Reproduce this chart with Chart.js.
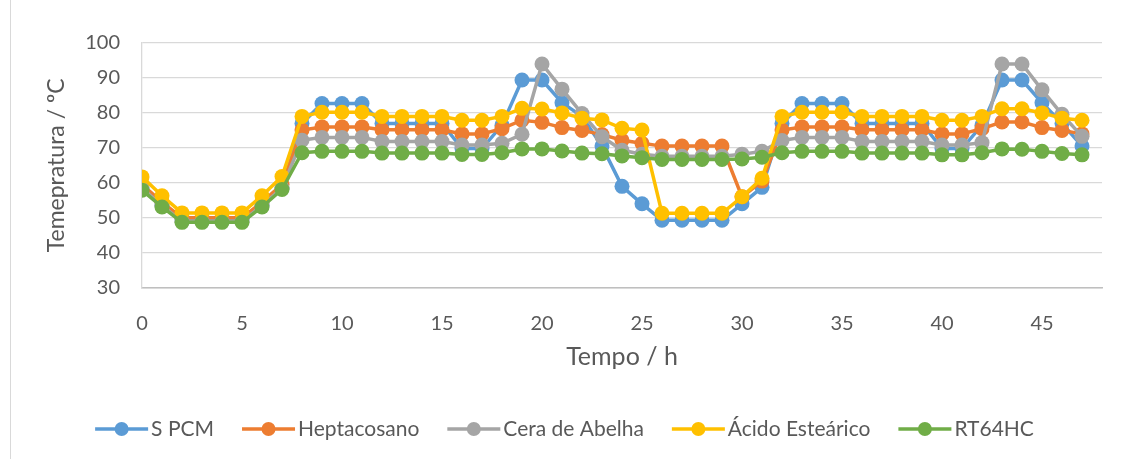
<!DOCTYPE html>
<html>
<head>
<meta charset="utf-8">
<script src="https://cdn.jsdelivr.net/npm/chart.js@4.4.1/dist/chart.umd.min.js"></script>
<style>
  html, body { margin: 0; padding: 0; background: #ffffff; }
  #wrap { position: relative; width: 1129px; height: 459px; }
  #frame { position: absolute; left: 10px; top: 0; width: 1px; height: 459px; background: #d9d9d9; }
  canvas { position: absolute; left: 0; top: 0; }
</style>
</head>
<body>
<div id="wrap">
  <canvas id="chart" width="1129" height="459"></canvas>
  <div id="frame"></div>
</div>
<script>
// Time in hours
const hours = [0, 1, 2, 3, 4, 5, 6, 7, 8, 9, 10, 11, 12, 13, 14, 15, 16, 17, 18, 19, 20, 21, 22, 23,
               24, 25, 26, 27, 28, 29, 30, 31, 32, 33, 34, 35, 36, 37, 38, 39, 40, 41, 42, 43, 44, 45, 46, 47];

// Temperature (ºC) per material
const sPCM = [58.5, 53.5, 49.5, 49.5, 49.5, 49.5, 53.5, 58.5, 77.0, 82.7, 82.7, 82.7,
              77.0, 77.0, 77.0, 77.0, 69.8, 69.8, 76.5, 89.4, 89.4, 82.9, 79.0, 70.5,
              59.0, 54.0, 49.3, 49.3, 49.3, 49.3, 54.0, 58.7, 77.0, 82.7, 82.7, 82.7,
              77.0, 77.0, 77.0, 77.0, 69.8, 69.8, 76.5, 89.4, 89.4, 82.9, 77.0, 70.5];

const heptacosano = [59.5, 54.5, 50.0, 50.0, 50.0, 50.0, 54.5, 59.5, 75.1, 76.0, 76.0, 76.0,
                     75.2, 75.2, 75.2, 75.2, 74.0, 74.0, 75.5, 77.9, 77.3, 75.8, 75.0, 73.8,
                     72.2, 71.3, 70.5, 70.5, 70.5, 70.5, 56.0, 60.5, 75.1, 76.0, 76.0, 76.0,
                     75.2, 75.2, 75.2, 75.2, 74.0, 74.0, 75.5, 77.4, 77.4, 75.8, 75.0, 74.0];

const ceraAbelha = [58.5, 53.5, 49.0, 49.0, 49.0, 49.0, 53.5, 58.5, 72.2, 73.0, 73.0, 73.0,
                    71.8, 71.8, 71.8, 71.8, 70.8, 70.8, 71.3, 73.9, 94.0, 86.8, 79.8, 73.2,
                    69.3, 68.2, 67.6, 67.6, 67.6, 67.6, 68.2, 69.0, 72.1, 73.0, 73.0, 73.0,
                    71.8, 71.8, 71.8, 71.8, 70.8, 70.8, 71.5, 94.0, 94.0, 86.6, 79.6, 73.3];

const acidoEstearico = [61.7, 56.3, 51.4, 51.4, 51.4, 51.4, 56.3, 61.8, 79.0, 80.2, 80.2, 80.2,
                        79.0, 79.0, 79.0, 79.0, 77.9, 77.9, 79.0, 81.3, 81.1, 80.0, 78.5, 78.0,
                        75.6, 75.1, 51.3, 51.3, 51.3, 51.3, 56.0, 61.3, 79.0, 80.2, 80.2, 80.2,
                        79.0, 79.0, 79.0, 79.0, 77.9, 77.9, 79.0, 81.2, 81.2, 80.0, 78.5, 77.9];

const rt64hc = [57.9, 53.1, 48.7, 48.7, 48.7, 48.7, 53.1, 58.1, 68.6, 69.0, 69.0, 69.0,
                68.5, 68.5, 68.5, 68.5, 68.1, 68.1, 68.6, 69.7, 69.7, 69.1, 68.5, 68.3,
                67.7, 67.2, 66.7, 66.7, 66.7, 66.7, 66.8, 67.3, 68.6, 69.0, 69.0, 69.0,
                68.5, 68.5, 68.5, 68.5, 68.0, 68.0, 68.6, 69.7, 69.6, 69.0, 68.4, 68.0];

const seriesNames = ['S PCM', 'Heptacosano', 'Cera de Abelha', 'Ácido Esteárico', 'RT64HC'];
const seriesValues = [sPCM, heptacosano, ceraAbelha, acidoEstearico, rt64hc];
const seriesColors = ['#5B9BD5', '#ED7D31', '#A5A5A5', '#FFC000', '#70AD47'];

const FONT = 'Lato, "Open Sans", sans-serif';
const TEXT = '#595959';

// Legend drawn as line + marker swatches, centred under the plot
const lineLegend = {
  id: 'lineLegend',
  afterDraw(chart) {
    const ctx = chart.ctx;
    ctx.save();
    ctx.font = '21px ' + FONT;
    ctx.textBaseline = 'middle';
    const lineW = 53, textGap = 3, itemGap = 28;
    const items = chart.data.datasets.map(ds => ({
      label: ds.label,
      color: ds.borderColor,
      w: lineW + textGap + ctx.measureText(ds.label).width
    }));
    const total = items.reduce((s, it) => s + it.w, 0) + itemGap * (items.length - 1);
    let x = (chart.width - total) / 2;
    const y = chart.height - 30;
    items.forEach(it => {
      ctx.strokeStyle = it.color;
      ctx.lineWidth = 3.5;
      ctx.beginPath();
      ctx.moveTo(x, y);
      ctx.lineTo(x + lineW, y);
      ctx.stroke();
      ctx.fillStyle = it.color;
      ctx.beginPath();
      ctx.arc(x + lineW / 2, y, 7, 0, Math.PI * 2);
      ctx.fill();
      ctx.fillStyle = TEXT;
      ctx.textAlign = 'left';
      ctx.fillText(it.label, x + lineW + textGap, y);
      x += it.w + itemGap;
    });
    ctx.restore();
  }
};

const datasets = seriesValues.map((vals, i) => ({
  label: seriesNames[i],
  data: vals.map((v, k) => ({ x: hours[k], y: v })),
  borderColor: seriesColors[i],
  backgroundColor: seriesColors[i],
  pointBackgroundColor: seriesColors[i],
  pointBorderColor: seriesColors[i],
  borderWidth: 3.5,
  pointRadius: 7.5,
  pointBorderWidth: 0,
  tension: 0,
  fill: false,
  order: seriesValues.length - i
}));

new Chart(document.getElementById('chart'), {
  type: 'line',
  data: { datasets },
  options: {
    responsive: false,
    animation: false,
    layout: { padding: { top: 43, right: 27, bottom: 71.3, left: 0 } },
    plugins: { legend: { display: false }, tooltip: { enabled: false } },
    scales: {
      x: {
        type: 'linear',
        min: 0,
        max: 48,
        afterBuildTicks(scale) { scale.ticks = scale.ticks.filter(t => t.value % 5 === 0); },
        afterFit(scale) { scale.height = 100; },
        ticks: { stepSize: 5, color: TEXT, font: { family: FONT, size: 20 }, padding: 24, maxRotation: 0 },
        grid: { display: false, drawTicks: false },
        border: { display: true, color: '#bfbfbf', width: 1.5 },
        title: { display: true, text: 'Tempo / h', color: TEXT, font: { family: FONT, size: 25 }, padding: { top: 0, bottom: 16 } }
      },
      y: {
        min: 30,
        max: 100,
        afterFit(scale) { scale.width = 142; },
        ticks: { stepSize: 10, color: TEXT, font: { family: FONT, size: 20 }, padding: 22 },
        grid: { color: '#d9d9d9', lineWidth: 1.3, drawTicks: false },
        border: { display: true, color: '#d9d9d9', width: 1.3 },
        title: { display: true, text: 'Temepratura / ºC', color: TEXT, font: { family: FONT, size: 23 }, padding: { top: 43, bottom: 0 } }
      }
    }
  },
  plugins: [lineLegend]
});
</script>
</body>
</html>
